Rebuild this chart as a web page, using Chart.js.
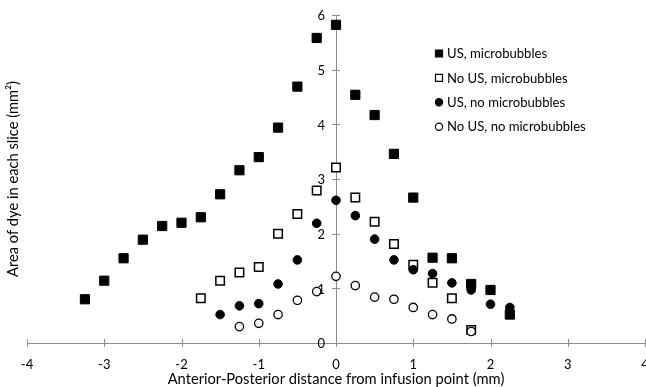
<!DOCTYPE html>
<html><head><meta charset="utf-8">
<script src="https://cdn.jsdelivr.net/npm/chart.js@4"></script>
<style>html,body{margin:0;padding:0;background:#fff;}</style>
</head><body>
<canvas id="c" width="646" height="387"></canvas>
<script>
const seriesNames = ['US, microbubbles', 'No US, microbubbles', 'US, no microbubbles', 'No US, no microbubbles'];

const usMbX = [-3.25,-3,-2.75,-2.5,-2.25,-2,-1.75,-1.5,-1.25,-1,-0.75,-0.5,-0.25,0,0.25,0.5,0.75,1,1.25,1.5,1.75,2,2.25];
const usMbY = [0.80,1.14,1.55,1.89,2.14,2.20,2.30,2.72,3.16,3.40,3.94,4.69,5.58,5.82,4.54,4.17,3.46,2.66,1.56,1.55,1.08,0.97,0.52];

const noUsMbX = [-1.75,-1.5,-1.25,-1,-0.75,-0.5,-0.25,0,0.25,0.5,0.75,1,1.25,1.5,1.75];
const noUsMbY = [0.82,1.14,1.29,1.39,2.00,2.36,2.79,3.21,2.66,2.22,1.81,1.43,1.10,0.82,0.24];

const usNoMbX = [-1.5,-1.25,-1,-0.75,-0.5,-0.25,0,0.25,0.5,0.75,1,1.25,1.5,1.75,2,2.25];
const usNoMbY = [0.52,0.68,0.72,1.08,1.52,2.19,2.61,2.33,1.90,1.52,1.34,1.27,1.10,0.97,0.71,0.65];

const noUsNoMbX = [-1.25,-1,-0.75,-0.5,-0.25,0,0.25,0.5,0.75,1,1.25,1.5,1.75];
const noUsNoMbY = [0.30,0.36,0.52,0.78,0.94,1.22,1.05,0.84,0.80,0.65,0.52,0.44,0.21];

const xTitle = 'Anterior-Posterior distance from infusion point (mm)';
const yTitle = 'Area of dye in each slice (mm\u00B2)';

function pts(xs, ys) { return xs.map((x, i) => ({x: x, y: ys[i]})); }

const FONT = 'Lato';
const AXIS = '#8c8c8c';

const styles = [
  {pointStyle: 'rect', radius: 6.5, bg: '#000', border: '#000', bw: 1},
  {pointStyle: 'rect', radius: 6, bg: '#fff', border: '#000', bw: 1.5},
  {pointStyle: 'circle', radius: 4.3, bg: '#000', border: '#000', bw: 1},
  {pointStyle: 'circle', radius: 4.2, bg: '#fff', border: '#000', bw: 1.3}
];
const allData = [pts(usMbX, usMbY), pts(noUsMbX, noUsMbY), pts(usNoMbX, usNoMbY), pts(noUsNoMbX, noUsNoMbY)];

const datasets = allData.map((d, i) => ({
  label: seriesNames[i],
  data: d,
  pointStyle: styles[i].pointStyle,
  pointRadius: styles[i].radius,
  pointHoverRadius: styles[i].radius,
  backgroundColor: styles[i].bg,
  borderColor: styles[i].border,
  borderWidth: styles[i].bw,
  order: 4 - i
}));

const legendPlugin = {
  id: 'customLegend',
  afterDraw(chart) {
    const ctx = chart.ctx;
    const x0 = 439, y0 = 53.5, step = 24.4;
    ctx.save();
    ctx.font = '13.1px ' + FONT;
    ctx.textBaseline = 'middle';
    chart.data.datasets.forEach((ds, i) => {
      const y = y0 + i * step;
      ctx.beginPath();
      ctx.lineWidth = 1.2;
      ctx.strokeStyle = '#000';
      if (ds.pointStyle === 'rect') {
        ctx.rect(x0 - 3.5, y - 3.5, 7, 7);
      } else {
        ctx.arc(x0, y, 3.6, 0, Math.PI * 2);
      }
      ctx.fillStyle = ds.backgroundColor;
      ctx.fill();
      ctx.stroke();
      ctx.fillStyle = '#000';
      ctx.fillText(ds.label, x0 + 8, y + 0.5);
    });
    ctx.restore();
  }
};

// tick marks crossing the axis lines, and y tick labels left of the central axis
const axisDecor = {
  id: 'axisDecor',
  afterDatasetsDraw(chart) {
    const ctx = chart.ctx, xs = chart.scales.x, ys = chart.scales.y;
    const x0 = xs.getPixelForValue(0), y0 = ys.getPixelForValue(0);
    ctx.save();
    ctx.strokeStyle = AXIS;
    ctx.lineWidth = 1;
    ctx.beginPath();
    ys.ticks.forEach(t => {
      const p = Math.round(ys.getPixelForValue(t.value)) + 0.5;
      ctx.moveTo(x0 - 4, p); ctx.lineTo(x0 + 4, p);
    });
    xs.ticks.forEach(t => {
      const p = Math.round(xs.getPixelForValue(t.value)) + 0.5;
      ctx.moveTo(p, y0 - 4); ctx.lineTo(p, y0 + 4);
    });
    ctx.stroke();
    ctx.fillStyle = '#000';
    ctx.font = '13px ' + FONT;
    ctx.textAlign = 'right';
    ctx.textBaseline = 'middle';
    ys.ticks.forEach(t => {
      ctx.fillText(String(t.value), x0 - 11, ys.getPixelForValue(t.value) + 1);
    });
    ctx.restore();
  }
};

new Chart(document.getElementById('c'), {
  type: 'scatter',
  data: {datasets: datasets},
  plugins: [axisDecor, legendPlugin],
  options: {
    responsive: false,
    animation: false,
    devicePixelRatio: 1,
    layout: {autoPadding: false, padding: {top: 15, right: 1, left: 0, bottom: 0}},
    plugins: {legend: {display: false}, tooltip: {enabled: false}},
    scales: {
      x: {
        type: 'linear', position: 'bottom', min: -4, max: 4,
        ticks: {stepSize: 1, color: '#000', font: {family: FONT, size: 13}, padding: 14},
        grid: {drawOnChartArea: false, drawTicks: false, color: AXIS},
        border: {display: true, color: AXIS, width: 1},
        title: {display: true, text: xTitle, color: '#000', font: {family: FONT, size: 14.7, lineHeight: 1}, padding: {top: 0, bottom: 0}},
        afterFit(s) { s.height = 44; s.paddingRight = 0; s.paddingLeft = 0; }
      },
      y: {
        type: 'linear', position: {x: 0}, min: 0, max: 6,
        ticks: {stepSize: 1, display: false},
        grid: {drawOnChartArea: false, drawTicks: false, color: AXIS},
        border: {display: true, color: AXIS, width: 1}
      },
      y2: {
        type: 'linear', position: 'left', display: true,
        ticks: {display: false},
        grid: {display: false, drawTicks: false},
        border: {display: false},
        title: {display: true, text: yTitle, color: '#000', font: {family: FONT, size: 14.7}, padding: {top: 4, bottom: 4}},
        afterFit(s) { s.width = 27; }
      }
    }
  }
});
</script>
</body></html>
